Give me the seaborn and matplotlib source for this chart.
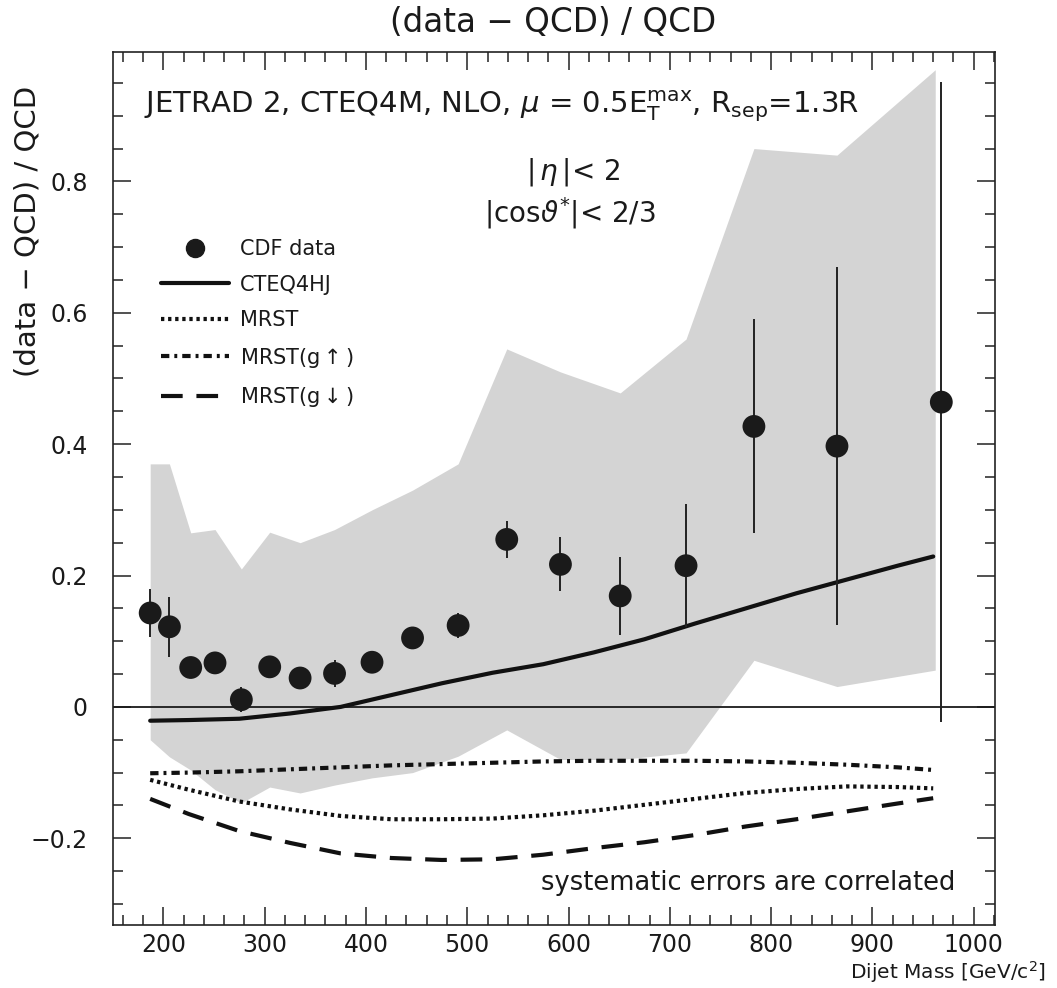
import numpy as np
import pandas as pd
import matplotlib
matplotlib.use("Agg")
import matplotlib.pyplot as plt
import seaborn as sns
from matplotlib.lines import Line2D
from matplotlib.ticker import MultipleLocator

# CDF dijet mass points: (data - QCD)/QCD with statistical errors
mass = [187, 206, 227, 251, 277, 305, 335, 369, 406, 446, 491, 539, 592, 651, 716, 783, 865, 968]
ratio = [0.143, 0.122, 0.060, 0.067, 0.011, 0.061, 0.044, 0.051, 0.068, 0.105, 0.124, 0.255,
         0.217, 0.169, 0.215, 0.427, 0.397, 0.464]
stat_err = [0.037, 0.046, 0.006, 0.015, 0.019, 0.006, 0.014, 0.020, 0.006, 0.007, 0.019, 0.028,
            0.041, 0.059, 0.094, 0.163, 0.272, 0.487]

# Systematic uncertainty band
band_mass = [187, 206, 227, 251, 277, 305, 335, 369, 406, 446, 491, 539, 592, 651, 716, 783, 865, 962]
band_hi = [0.37, 0.37, 0.265, 0.27, 0.21, 0.266, 0.25, 0.27, 0.30, 0.33, 0.37, 0.545, 0.51, 0.478,
           0.56, 0.85, 0.84, 0.97]
band_lo = [-0.05, -0.076, -0.096, -0.126, -0.146, -0.122, -0.131, -0.119, -0.108, -0.10, -0.075,
           -0.035, -0.08, -0.08, -0.07, 0.071, 0.031, 0.056]

# Theory curves relative to the JETRAD CTEQ4M reference
curve_mass = [187, 225, 275, 325, 375, 425, 475, 525, 575, 625, 675, 725, 775, 825, 875, 925, 960]
cteq4hj = [-0.021, -0.020, -0.018, -0.010, 0.0, 0.018, 0.036, 0.052, 0.065, 0.083, 0.103, 0.127,
           0.150, 0.173, 0.194, 0.215, 0.229]
mrst = [-0.111, -0.126, -0.144, -0.156, -0.166, -0.171, -0.171, -0.170, -0.165, -0.158, -0.149,
        -0.140, -0.131, -0.125, -0.121, -0.122, -0.124]
mrst_gup = [-0.101, -0.100, -0.098, -0.095, -0.092, -0.089, -0.087, -0.085, -0.083, -0.082, -0.082,
            -0.082, -0.083, -0.085, -0.088, -0.092, -0.096]
mrst_gdn = [-0.140, -0.163, -0.189, -0.207, -0.223, -0.230, -0.233, -0.232, -0.225, -0.215, -0.206,
            -0.195, -0.182, -0.171, -0.159, -0.147, -0.139]

curve_names = ["CTEQ4HJ", "MRST", r"MRST(g$\uparrow$)", r"MRST(g$\downarrow$)"]
curve_styles = ["-", (0, (0.8, 0.9)), (0, (2.0, 1.2, 0.7, 1.2)), (0, (5.2, 3.3))]

sns.set_style("ticks")
plt.rcParams["font.family"] = ["DejaVu Sans"]
plt.rcParams["mathtext.fontset"] = "dejavusans"
plt.rcParams["text.color"] = "#1a1a1a"

W, H = 1057, 988
fig = plt.figure(figsize=(W / 100, H / 100), dpi=100)
ax = fig.add_axes([112.7 / W, 1 - 925 / H, (995 - 112.7) / W, (925 - 52) / H])


def fpx(x, y):
    return x / W, 1 - y / H


# systematic band
ax.fill_between(band_mass, band_lo, band_hi, color="#d4d4d4", linewidth=0, zorder=1)

# zero line
ax.axhline(0, color="#1a1a1a", lw=1.3, zorder=2)

# theory curves
curves = pd.DataFrame({"mass": curve_mass * 4,
                       "ratio": cteq4hj + mrst + mrst_gup + mrst_gdn,
                       "pdf": sum([[n] * len(curve_mass) for n in curve_names], [])})
for name, ls in zip(curve_names, curve_styles):
    sub = curves[curves["pdf"] == name]
    sns.lineplot(data=sub, x="mass", y="ratio", ax=ax, color="#111111", lw=3.0,
                 linestyle=ls, legend=False, zorder=3)

# data with error bars
ax.errorbar(mass, ratio, yerr=stat_err, fmt="none", ecolor="#222222", elinewidth=1.4, zorder=4)
sns.scatterplot(x=mass, y=ratio, ax=ax, color="#1a1a1a", s=270, edgecolor="none", zorder=5,
                legend=False)

ax.set_xlim(150, 1021)
ax.set_ylim(-0.332, 0.997)
ax.set_xlabel("")
ax.set_ylabel("")
ax.xaxis.set_major_locator(MultipleLocator(100))
ax.xaxis.set_minor_locator(MultipleLocator(20))
ax.yaxis.set_major_locator(MultipleLocator(0.2))
ax.yaxis.set_minor_locator(MultipleLocator(0.05))
ax.tick_params(which="both", direction="in", top=True, right=True, color="#222222", width=1.1,
               labelcolor="#1a1a1a")
ax.tick_params(which="major", length=13, labelsize=17)
ax.tick_params(which="minor", length=7)
ax.tick_params(axis="x", which="major", pad=6)
ax.tick_params(axis="y", which="major", pad=18)
ax.set_xticks([200, 300, 400, 500, 600, 700, 800, 900, 1000])
ax.set_yticks([-0.2, 0, 0.2, 0.4, 0.6, 0.8])
ax.set_yticklabels(["\u22120.2", "0", "0.2", "0.4", "0.6", "0.8"])
for s in ax.spines.values():
    s.set_linewidth(1.2)
    s.set_color("#222222")

# annotations
ax.text(0.036, 0.958,
        r"JETRAD 2, CTEQ4M, NLO, $\mu$ = 0.5E$_{\rm T}^{\rm max}$, R$_{\rm sep}$=1.3R",
        transform=ax.transAxes, fontsize=21, ha="left", va="top")
ax.text(0.522, 0.8625, r"$|\,\eta\,|$< 2", transform=ax.transAxes, fontsize=20, ha="center",
        va="center")
ax.text(0.518, 0.8156, r"$|$cos$\vartheta^{*}|$< 2/3", transform=ax.transAxes, fontsize=20,
        ha="center", va="center")
ax.text(0.955, 0.033, "systematic errors are correlated", transform=ax.transAxes, fontsize=18.5,
        ha="right", va="bottom")

# legend
handles = [Line2D([], [], marker="o", color="#1a1a1a", ls="none", markersize=13)]
for ls in curve_styles:
    handles.append(Line2D([], [], color="#111111", lw=3.0, linestyle=ls))
ax.legend(handles, ["CDF data"] + curve_names, loc="upper left",
          bbox_to_anchor=(0.045, 0.795), frameon=False, fontsize=15, handlelength=3.3,
          handletextpad=0.5, labelspacing=0.74, borderaxespad=0)

# titles
fig.text(*fpx(553, 22), "(data \u2212 QCD) / QCD", fontsize=23.5, ha="center", va="center")
fig.text(*fpx(28, 231), "(data \u2212 QCD) / QCD", fontsize=21, ha="center", va="center",
         rotation=90)
fig.text(*fpx(1046, 985), r"Dijet Mass [GeV/c$^2$]", fontsize=14.5, ha="right", va="bottom")

fig.savefig("out.png", dpi=100, facecolor="white")
